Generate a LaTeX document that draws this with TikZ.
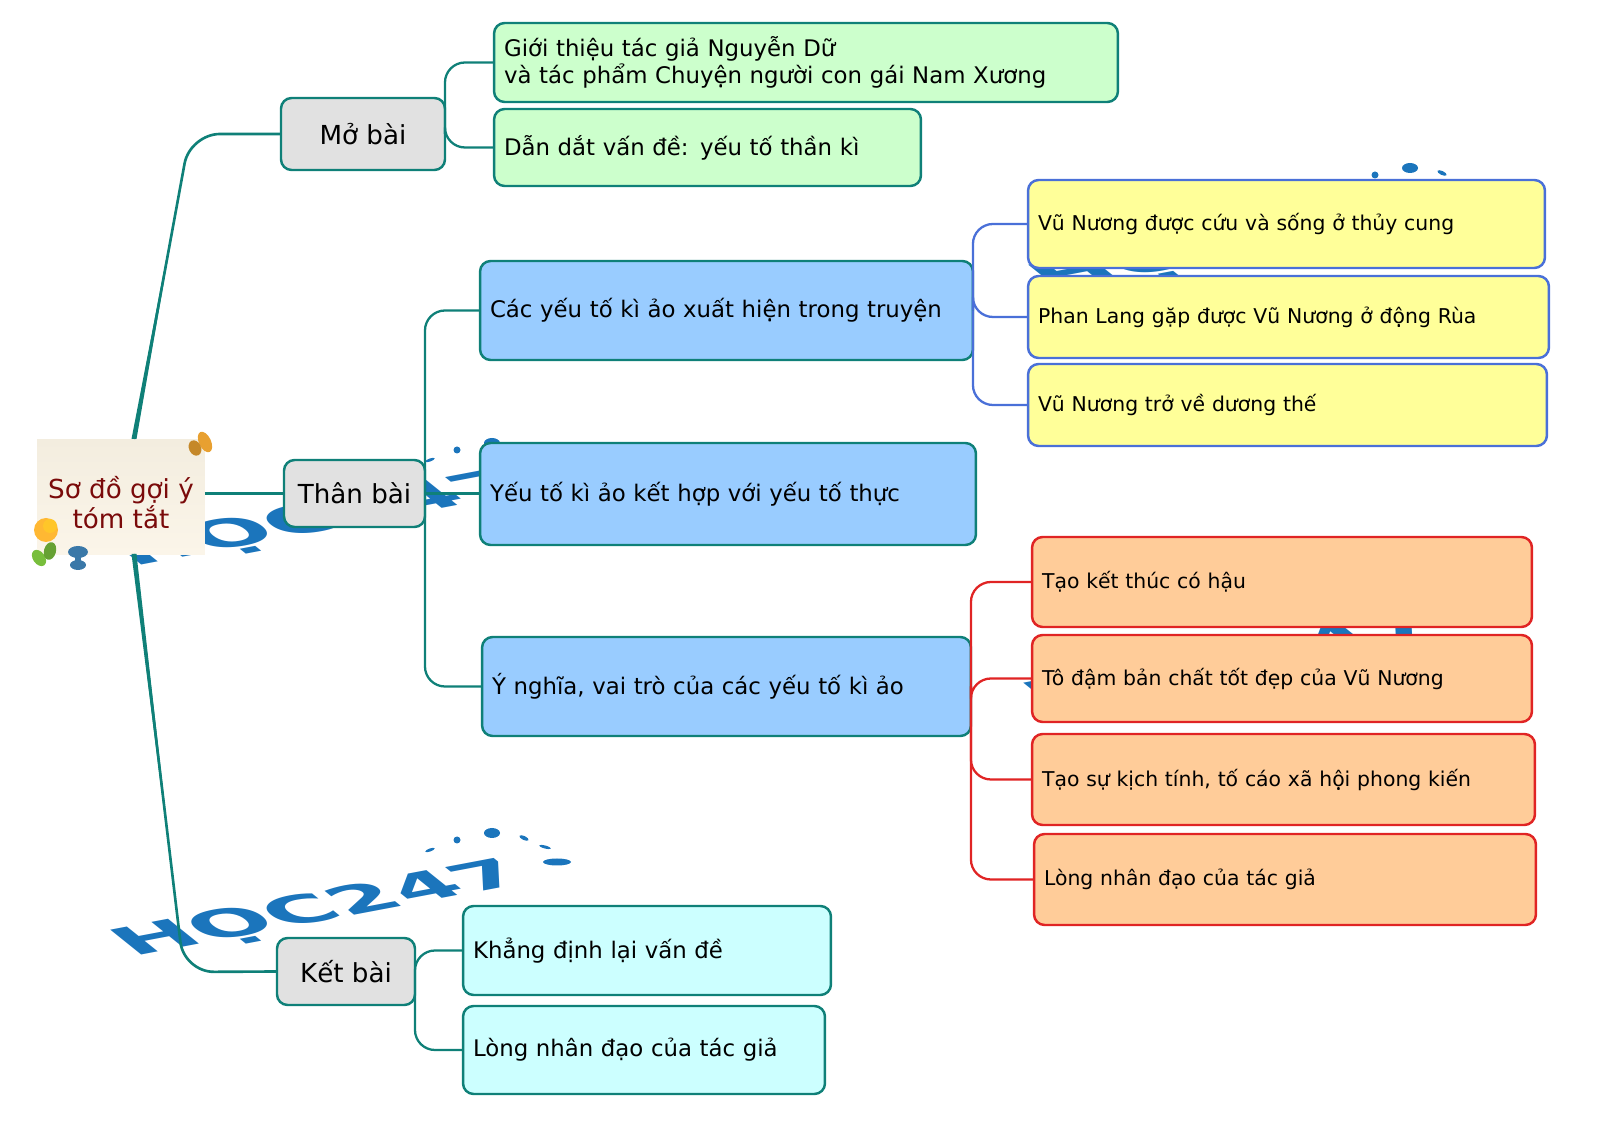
\documentclass[tikz,border=0pt]{standalone}
\usepackage{fontspec}
\setmainfont{DejaVu Sans}
\usepackage{color}
\usepackage{tikz}

\definecolor{branchteal}{HTML}{0F8078}
\definecolor{markblue}{HTML}{1B75BC}
\definecolor{greyfill}{HTML}{E1E1E1}
\definecolor{greenfill}{HTML}{CCFFCC}
\definecolor{bluefill}{HTML}{99CCFF}
\definecolor{yellowfill}{HTML}{FFFF99}
\definecolor{orangefill}{HTML}{FFCC99}
\definecolor{cyanfill}{HTML}{CCFFFF}
\definecolor{yellowline}{HTML}{4A70D8}
\definecolor{orangeline}{HTML}{E02424}
\definecolor{notered}{HTML}{7A0A0A}
\definecolor{notetop}{HTML}{F3EDDF}
\definecolor{notebottom}{HTML}{FBF5E9}
\definecolor{pinorange}{HTML}{E8A030}
\definecolor{pinyellow}{HTML}{FFB833}
\definecolor{pingreen}{HTML}{78BE3C}
\definecolor{pinblue}{HTML}{3A78A8}

\tikzset{
  topbox/.style={draw=branchteal, line width=1.4pt, rounded corners=6pt, outer sep=0pt,
    inner xsep=0.2cm, inner ysep=0pt, align=left, font=\fontsize{13}{15.6}\selectfont},
  partbox/.style={topbox, fill=greyfill, align=center, font=\fontsize{14.9}{17}\selectfont},
  greenbox/.style={topbox, fill=greenfill},
  bluebox/.style={topbox, fill=bluefill},
  cyanbox/.style={topbox, fill=cyanfill},
  yellowbox/.style={topbox, fill=yellowfill, draw=yellowline, font=\fontsize{11.6}{14}\selectfont},
  orangebox/.style={topbox, fill=orangefill, draw=orangeline, font=\fontsize{11.6}{14}\selectfont},
  trunk/.style={draw=branchteal, line width=1.5pt, rounded corners=0.6cm},
  twig/.style={draw=branchteal, line width=1.3pt, rounded corners=0.4cm},
  bluetwig/.style={twig, draw=yellowline},
  redtwig/.style={twig, draw=orangeline},
  logotext/.style={text=markblue, inner sep=0pt, anchor=base west,
    font=\fontsize{34}{34}\selectfont\bfseries, cm={1.48,0.28,-0.71,0.57,(0,0)}},
}

% watermark, placed by its offset from the lowest copy
\newcommand{\hocmark}[2]{
  \begin{scope}[shift={(#1,#2)}]
    \node[logotext] at (133,957) {HỌC247};
    \fill[markblue] (492,833) ellipse (8 and 5);
    \fill[markblue] (457,840) circle (3.5);
    \fill[markblue, rotate around={20:(430,850)}] (430,850) ellipse (5 and 1.5);
    \fill[markblue, rotate around={-25:(524,838)}] (524,838) ellipse (5 and 2);
    \fill[markblue, rotate around={-15:(545,847)}] (545,847) ellipse (6 and 1.5);
    \fill[markblue] (557,862) ellipse (14 and 3.5);
  \end{scope}
}

\begin{document}
\begin{tikzpicture}[x=0.02cm, y=-0.02cm]
  \useasboundingbox (0,0) rectangle (1600,1124);

  % Watermarks
  \hocmark{0}{0}
  \hocmark{0}{-390}
  \hocmark{918}{-665}
  \hocmark{913}{-247}

  % Branch points
  \coordinate (up) at (134,439);
  \coordinate (down) at (134,554);
  \coordinate (bendup) at (190,134);
  \coordinate (benddown) at (184,972);
  \coordinate (tipup) at (183,172);
  \coordinate (tipdown) at (178,922);

  % Centre note
  \node[shade, top color=notetop, bottom color=notebottom,
    minimum width=3.36cm, minimum height=2.3cm, outer sep=0pt, align=center,
    text=notered, font=\fontsize{14.9}{17}\selectfont] (note) at (121,497)
    {\rule{0pt}{0.66cm}Sơ đồ gợi ý\\tóm tắt};

  % Main parts
  \node[partbox, minimum width=3.28cm, minimum height=1.44cm] (mo) at (363,134) {Mở bài};
  \node[partbox, minimum width=2.82cm, minimum height=1.34cm] (than) at (354.5,493.5) {Thân bài};
  \node[partbox, minimum width=2.76cm, minimum height=1.34cm] (ket) at (346,971.5) {Kết bài};

  % Opening
  \node[greenbox, text width=12.08cm, minimum height=1.58cm] (gioithieu) at (806,62.5)
    {Giới thiệu tác giả Nguyễn Dữ\\và tác phẩm Chuyện người con gái Nam Xương};
  \node[greenbox, text width=8.14cm, minimum height=1.54cm] (danDat) at (707.5,147.5)
    {Dẫn dắt vấn đề: yếu tố thần kì};

  % Body
  \node[bluebox, text width=9.46cm, minimum height=1.98cm] (yeuto) at (726.5,310.5)
    {Các yếu tố kì ảo xuất hiện trong truyện};
  \node[bluebox, text width=9.52cm, minimum height=2.04cm] (ketHop) at (728,494)
    {Yếu tố kì ảo kết hợp với yếu tố thực};
  \node[bluebox, text width=9.38cm, minimum height=1.98cm] (yNghia) at (726.5,686.5)
    {Ý nghĩa, vai trò của các yếu tố kì ảo};

  \node[yellowbox, text width=9.94cm, minimum height=1.76cm] (cuu) at (1286.5,224)
    {Vũ Nương được cứu và sống ở thủy cung};
  \node[yellowbox, text width=10.02cm, minimum height=1.64cm] (gap) at (1288.5,317)
    {Phan Lang gặp được Vũ Nương ở động Rùa};
  \node[yellowbox, text width=9.98cm, minimum height=1.64cm] (tro) at (1287.5,405)
    {Vũ Nương trở về dương thế};

  \node[orangebox, text width=9.6cm, minimum height=1.8cm] (hau) at (1282,582)
    {Tạo kết thúc có hậu};
  \node[orangebox, text width=9.6cm, minimum height=1.74cm] (dam) at (1282,678.5)
    {Tô đậm bản chất tốt đẹp của Vũ Nương};
  \node[orangebox, text width=9.66cm, minimum height=1.82cm] (kich) at (1283.5,779.5)
    {Tạo sự kịch tính, tố cáo xã hội phong kiến};
  \node[orangebox, text width=9.64cm, minimum height=1.82cm] (long) at (1285,879.5)
    {Lòng nhân đạo của tác giả};

  % Closing
  \node[cyanbox, text width=6.96cm, minimum height=1.78cm] (khang) at (647,950.5)
    {Khẳng định lại vấn đề};
  \node[cyanbox, text width=6.84cm, minimum height=1.76cm] (nhan) at (644,1050)
    {Lòng nhân đạo của tác giả};

  % Branches
  \draw[trunk] (up) -- (bendup) -- (mo.west);
  \draw[trunk] (down) -- (benddown) -- (ket.west);
  \fill[branchteal] ([xshift=-0.05cm]up) -- ([xshift=0.05cm]up) -- (tipup) -- cycle;
  \fill[branchteal] ([xshift=-0.05cm]down) -- ([xshift=0.05cm]down) -- (tipdown) -- cycle;
  \draw[trunk, line width=2pt] (note.east |- than.west) -- (than.west);

  % Twigs
  \draw[twig] (mo.east) |- (gioithieu.west);
  \draw[twig] (mo.east) |- (danDat.west);
  \draw[twig] (than.east) |- (yeuto.west);
  \draw[twig] (than.east) -- (ketHop.west |- than.east);
  \draw[twig] (than.east) |- (yNghia.west);
  \draw[twig] (ket.east) |- (khang.west);
  \draw[twig] (ket.east) |- (nhan.west);

  \draw[bluetwig] (yeuto.east) |- (cuu.west);
  \draw[bluetwig] (yeuto.east) |- (gap.west);
  \draw[bluetwig] (yeuto.east) |- (tro.west);

  \draw[redtwig] (yNghia.east) |- (hau.west);
  \draw[redtwig] (yNghia.east) |- (dam.west);
  \draw[redtwig] (yNghia.east) |- (kich.west);
  \draw[redtwig] (yNghia.east) |- (long.west);

  % Pins
  \fill[pinorange, rotate around={25:(205,442)}] (205,442) ellipse (6 and 11);
  \fill[pinorange!85!black, rotate around={25:(195,448)}] (195,448) ellipse (6 and 8);
  \fill[pinyellow] (46,530) circle (12);
  \fill[pinyellow!80!yellow] (50,526) circle (7);
  \fill[pingreen, rotate around={35:(39,558)}] (39,558) ellipse (6 and 9);
  \fill[pingreen!85!black, rotate around={-15:(50,551)}] (50,551) ellipse (6 and 9);
  \fill[pinblue] (78,552) ellipse (10 and 6);
  \fill[pinblue] (78,565) ellipse (8 and 5);
  \fill[pinblue] (75,552) rectangle (81,565);
\end{tikzpicture}
\end{document}
